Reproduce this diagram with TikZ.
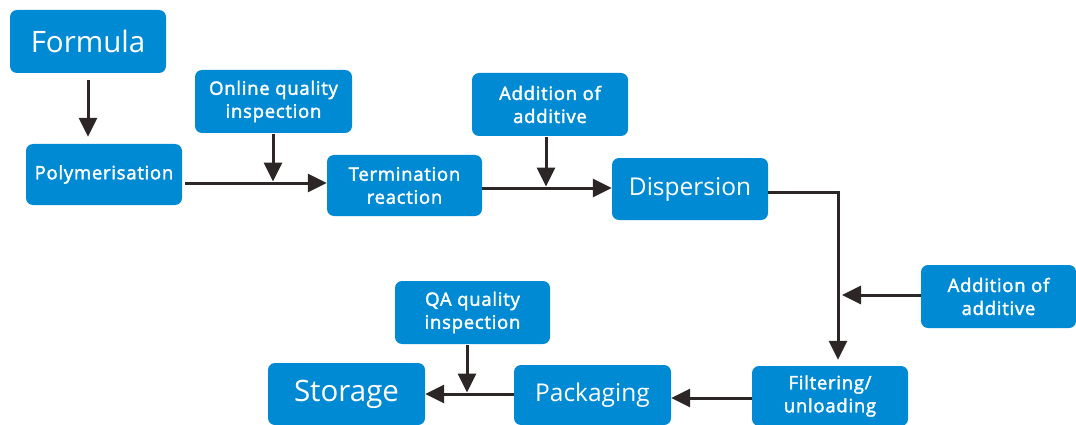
\documentclass[tikz,border=0pt]{standalone}
\usepackage{fontspec}
\setmainfont{Open Sans}
\newfontfamily\labelfont{Open Sans}[FakeBold=2,LetterSpace=4]
\usetikzlibrary{arrows.meta}
\definecolor{boxblue}{RGB}{0,138,212}
\definecolor{arrowdark}{RGB}{45,38,38}
\tikzset{
  stepbox/.style={fill=boxblue, rounded corners=7pt, inner sep=0pt,
    text=white, align=center, minimum width=156pt, minimum height=62pt},
  bigtext/.style={font=\fontsize{29.5}{33}\selectfont},
  midtext/.style={font=\fontsize{24.5}{28}\selectfont},
  smalltext/.style={font=\labelfont\fontsize{18.5}{23}\selectfont},
  flow/.style={draw=arrowdark, line width=3pt,
    -{Triangle[length=19pt,width=18pt]}},
}
\begin{document}
\begin{tikzpicture}[x=1pt,y=-1pt]
\useasboundingbox (0,0) rectangle (1076,425);
\clip (0,0) rectangle (1076,425);

% process steps
\node[stepbox, bigtext, minimum height=63pt] (formula) at (88,41.5) {Formula};
\node[stepbox, smalltext, minimum height=61pt] (poly) at (104,174.5) {Polymerisation};
\node[stepbox, smalltext, minimum width=157pt, minimum height=63pt] (online) at (273.5,101.5) {Online quality\\inspection};
\node[stepbox, smalltext, minimum width=155pt, minimum height=61pt] (term) at (404.5,185.5) {Termination\\reaction};
\node[stepbox, smalltext, minimum height=63pt] (addtop) at (550,104.5) {Addition of\\additive};
\node[stepbox, midtext] (disp) at (690,189) {Dispersion};
\node[stepbox, smalltext, minimum width=155pt, minimum height=63pt] (addright) at (998.5,296.5) {Addition of\\additive};
\node[stepbox, smalltext, minimum height=60pt] (filt) at (830,396) {Filtering/\\unloading};
\node[stepbox, smalltext, minimum width=155pt, minimum height=63pt] (qa) at (472.5,312.5) {QA quality\\inspection};
\node[stepbox, bigtext, minimum width=157pt] (storage) at (346.5,394) {Storage};
\node[stepbox, midtext, minimum width=157pt, minimum height=60pt] (pack) at (592.5,395) {Packaging};

% junction points on the main line
\coordinate (j1) at (273,183);
\coordinate (j2) at (546,188);
\coordinate (c1) at (838,192);
\coordinate (j3) at (838,295);
\coordinate (j4) at (467,394);
\coordinate (j5) at (0,398);

% connectors
\draw[flow, shorten <=7pt, shorten >=7pt] (formula.south) -- (formula.south |- poly.north);
\draw[flow, shorten <=3pt] (poly.east |- j1) -- (term.west |- j1);
\draw[flow, shorten <=1pt, shorten >=1.5pt] (online.south -| j1) -- (j1);
\draw[flow] (term.east |- j2) -- (disp.west |- j2);
\draw[flow, shorten <=1pt, shorten >=1.5pt] (addtop.south -| j2) -- (j2);
\draw[flow, shorten >=6pt] (disp.east |- c1) -- (c1) -- (filt.north -| c1);
\draw[flow, shorten >=4pt] (addright.west |- j3) -- (j3);
\draw[flow] (filt.west |- j5) -- (pack.east |- j5);
\draw[flow] (pack.west |- j4) -- (storage.east |- j4);
\draw[flow, shorten <=1pt, shorten >=1.5pt] (qa.south -| j4) -- (j4);
\end{tikzpicture}
\end{document}
